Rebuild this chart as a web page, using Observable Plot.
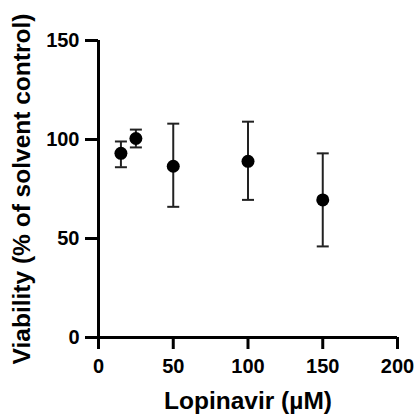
<!DOCTYPE html>
<html><head><meta charset="utf-8">
<script src="https://cdn.jsdelivr.net/npm/d3@7"></script>
<script src="https://cdn.jsdelivr.net/npm/@observablehq/plot@0.6"></script>
<style>
body{margin:0;background:#fff;}
#chart{position:relative;width:417px;height:414px;}
</style></head>
<body><div id="chart"></div>
<script>
const concentration = [15, 25, 50, 100, 150];
const viability = [93, 100.5, 86.5, 89, 69.5];
const errLow = [86, 96, 66, 69.5, 46];
const errHigh = [99, 105, 108, 109, 93];
const xTicks = [0, 50, 100, 150, 200];
const yTicks = [0, 50, 100, 150];
const xLabel = "Lopinavir (µM)";
const yLabel = "Viability (% of solvent control)";

const data = concentration.map((c, i) => ({c, v: viability[i], lo: errLow[i], hi: errHigh[i]}));
const capSymbol = {draw(ctx, size){ const w = 6; ctx.moveTo(-w, 0); ctx.lineTo(w, 0); }};
const font = "'Liberation Sans', Arial, sans-serif";

const plot = Plot.plot({
  width: 417, height: 414,
  marginLeft: 98, marginTop: 40, marginBottom: 77, marginRight: 20,
  style: {fontFamily: font, fontWeight: "bold", fontSize: "20px", color: "#000", background: "#fff"},
  x: {domain: [0, 200]},
  y: {domain: [0, 150]},
  marks: [
    Plot.axisX({ticks: xTicks, tickSize: 12, tickPadding: 9, strokeWidth: 3, label: xLabel, labelAnchor: "center", labelArrow: "none", labelOffset: 71}),
    Plot.axisY({ticks: yTicks, tickSize: 13, tickPadding: 6, strokeWidth: 3, label: yLabel, labelAnchor: "center", labelArrow: "none", labelOffset: 86}),
    Plot.ruleX(data, {x: "c", y1: "lo", y2: "hi", stroke: "#222", strokeWidth: 2}),
    Plot.dot(data, {x: "c", y: "lo", symbol: capSymbol, r: 6, stroke: "#222", strokeWidth: 2, fill: "none"}),
    Plot.dot(data, {x: "c", y: "hi", symbol: capSymbol, r: 6, stroke: "#222", strokeWidth: 2, fill: "none"}),
    Plot.dot(data, {x: "c", y: "v", r: 6.5, fill: "#000", stroke: "none"}),
    Plot.ruleY([0], {stroke: "#000", strokeWidth: 3}),
    Plot.ruleX([0], {stroke: "#000", strokeWidth: 3})
  ]
});
d3.select(plot).selectAll("text").each(function() {
  const g = this.closest("g");
  const lab = g ? g.getAttribute("aria-label") || "" : "";
  this.style.fontFamily = font;
  this.style.fontWeight = "bold";
  this.style.fontSize = lab.endsWith("axis label") ? "24.5px" : "20px";
});
document.getElementById("chart").appendChild(plot);
</script></body></html>
